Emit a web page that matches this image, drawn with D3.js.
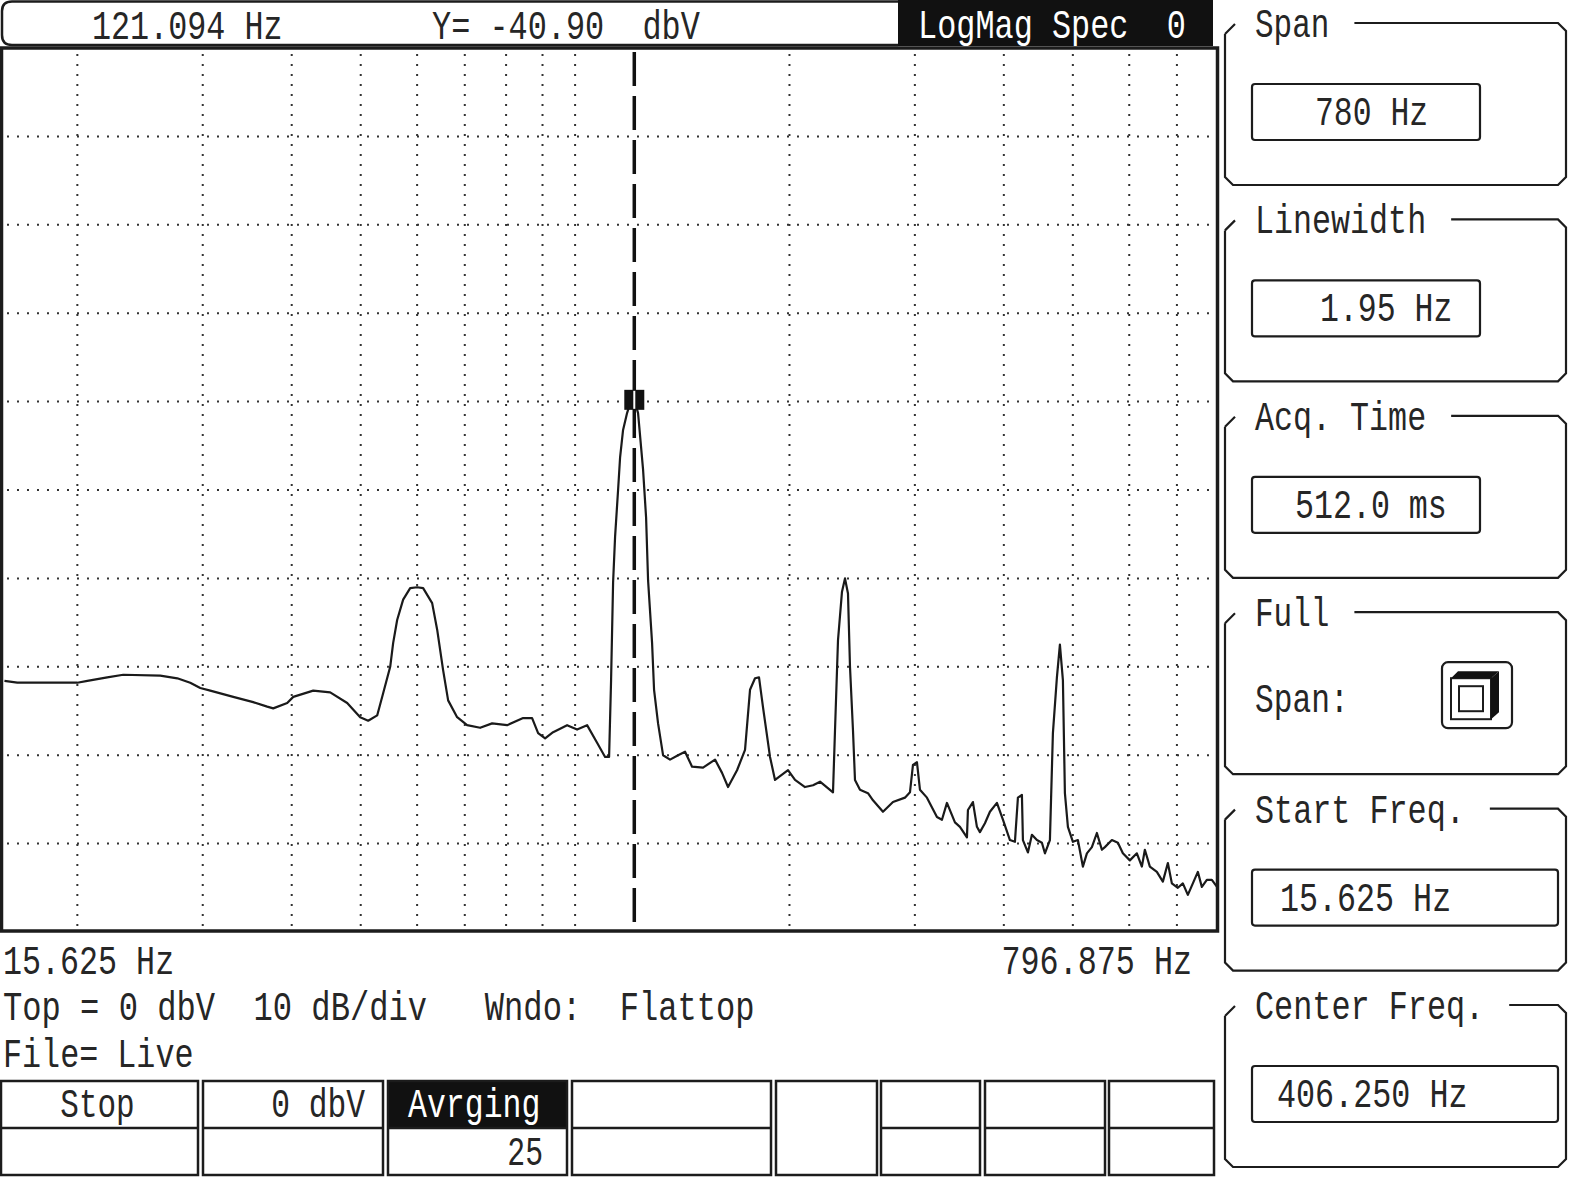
<!DOCTYPE html>
<html><head><meta charset="utf-8">
<script src="https://cdn.jsdelivr.net/npm/d3@7"></script>
<style>html,body{margin:0;padding:0;background:#fff;} svg{display:block;} text{white-space:pre;}</style>
</head><body>
<svg id="c" width="1571" height="1178"></svg>
<script>
// ---------------- data ----------------
const traceFreqHz = [15.8,16.47,20.0,20.66,22.03,23.2,26.15,27.63,28.81,29.76,30.74,33.11,35.32,36.95,37.68,39.42,40.2,42.88,45.3,47.86,49.91,51.22,52.73,53.76,55.0,55.53,56.25,57.35,58.67,60.01,61.18,62.99,64.02,65.27,66.33,68.29,70.53,73.56,76.47,80.27,84.53,87.02,88.73,90.76,93.13,97.44,100.65,103.95,107.37,110.18,111.62,112.34,113.07,113.8,114.91,115.66,116.78,118.3,119.45,121.09,122.58,124.58,125.8,126.61,128.26,129.09,130.77,132.9,135.94,139.5,142.69,145.96,151.24,157.22,160.82,163.97,168.81,173.23,176.05,178.92,181.25,183.61,187.81,190.87,195.24,199.06,203.62,210.31,215.82,220.76,230.23,231.72,233.98,237.02,239.33,241.66,243.23,245.6,247.19,251.22,257.8,262.0,270.61,279.5,290.55,295.28,298.16,302.04,304.98,311.96,322.21,327.46,332.79,341.51,347.07,355.01,356.16,361.96,366.67,370.24,376.28,382.41,391.16,398.82,407.95,414.59,418.63,424.08,425.45,432.38,438.01,445.14,452.4,456.81,464.25,468.77,474.87,479.5,484.17,487.31,492.06,500.08,508.22,516.5,523.23,531.75,540.41,549.22,554.57,567.26,578.37,587.79,601.24,614.99,625.01,631.1,641.38,656.06,668.91,679.81,688.66,702.14,713.58,725.21,737.02,749.03,758.78,771.14,783.7,796.9];
const traceLevelDbV = [-71.6,-71.8,-71.8,-71.6,-71.2,-70.9,-71.0,-71.3,-71.8,-72.4,-72.7,-73.4,-74.0,-74.5,-74.7,-74.1,-73.4,-72.7,-72.9,-74.1,-75.7,-76.1,-75.5,-73.0,-70.0,-67.3,-64.7,-62.4,-61.1,-61.0,-61.1,-62.8,-65.8,-70.4,-73.8,-75.7,-76.6,-76.9,-76.4,-76.6,-75.8,-75.8,-77.5,-78.1,-77.4,-76.6,-77.1,-76.6,-78.6,-80.2,-80.2,-71.5,-60.5,-55.3,-50.0,-46.3,-43.2,-41.3,-40.2,-39.8,-41.3,-47.7,-53.1,-60.2,-67.3,-72.6,-76.4,-80.0,-80.5,-80.0,-79.6,-81.3,-81.4,-80.5,-82.0,-83.6,-81.7,-79.4,-72.6,-71.3,-71.2,-74.6,-80.2,-82.8,-82.2,-81.7,-82.8,-83.6,-83.4,-83.0,-84.2,-77.2,-67.0,-61.5,-60.0,-61.7,-70.0,-77.2,-82.8,-83.9,-84.3,-85.1,-86.4,-85.3,-84.8,-84.2,-81.1,-80.8,-83.9,-84.8,-87.0,-87.3,-85.4,-87.6,-88.1,-89.3,-86.2,-85.3,-88.1,-88.7,-87.7,-86.4,-85.4,-87.3,-89.6,-89.8,-84.8,-84.5,-89.6,-91.0,-89.0,-89.6,-89.9,-91.1,-89.6,-77.5,-71.2,-67.5,-71.5,-84.3,-88.1,-89.8,-89.6,-92.6,-91.1,-90.4,-88.8,-90.7,-90.4,-89.6,-89.9,-91.1,-91.9,-91.1,-92.6,-90.7,-92.6,-93.2,-94.3,-92.2,-94.5,-95.0,-94.5,-95.8,-94.5,-93.2,-94.9,-94.1,-94.1,-94.9];
const freqRangeHz = [15.625, 796.875];
const levelRangeDbV = [0, -100];
const gridFreqHz = [20,30,40,50,60,70,80,90,100,200,300,400,500,600,700];
const gridLevelDbV = [-10,-20,-30,-40,-50,-60,-70,-80,-90];
const markerFreqHz = 121.094;
const markerTraceDbV = -39.8;
const headerTexts = ["121.094 Hz", "Y= -40.90  dbV", "LogMag Spec  0"];
const footerTexts = ["15.625 Hz", "796.875 Hz", "Top = 0 dbV  10 dB/div   Wndo:  Flattop", "File= Live"];
const softKeyTop = ["Stop", "0 dbV", "Avrging", "", "", "", "", ""];
const softKeyBottom = ["", "", "25", "", null, "", "", ""];
const panelLabels = ["Span", "Linewidth", "Acq. Time", "Full", "Start Freq.", "Center Freq."];
const panelValues = ["780 Hz", "1.95 Hz", "512.0 ms", null, "15.625 Hz", "406.250 Hz"];

// ---------------- drawing ----------------
const svg = d3.select('#c');
const INK = '#1c1c1c';
const FONT = "'Liberation Mono', 'DejaVu Sans Mono', monospace";
const PITCH = 19.35;

function txt(g, x, y, s, o = {}) {
  if (!s) return;
  const n = s.length;
  let x0 = x;
  if (o.anchor === 'end') x0 = x - n * PITCH;
  if (o.anchor === 'middle') x0 = x - n * PITCH / 2;
  g.append('text').attr('x', x0).attr('y', y).text(s)
    .attr('font-family', FONT).attr('font-size', o.size || 41)
    .attr('fill', o.fill || '#262626')
    .attr('textLength', n * PITCH - 3).attr('lengthAdjust', 'spacingAndGlyphs')
    .attr('xml:space', 'preserve');
}

// plot geometry
const PL = 1, PR = 1217, PT = 48, PB = 932;
const x = d3.scaleLog().domain(freqRangeHz).range([PL, PR]);
const y = d3.scaleLinear().domain(levelRangeDbV).range([PT, PB]);

// header
const hdr = svg.append('g');
hdr.append('path').attr('d', `M898,1.5 L12,1.5 Q2,1.5 2,11 L2,35 Q2,45 12,45 L898,45`)
  .attr('fill', 'none').attr('stroke', INK).attr('stroke-width', 2.5);
hdr.append('rect').attr('x', 898).attr('y', 0).attr('width', 315).attr('height', 46).attr('fill', '#111');
txt(hdr, 92, 39, headerTexts[0]);
txt(hdr, 432, 39, headerTexts[1]);
txt(hdr, 918, 38, headerTexts[2], {fill: '#fff'});

// grid
const grid = svg.append('g');
grid.selectAll('line.v').data(gridFreqHz).enter().append('line')
  .attr('x1', d => x(d)).attr('x2', d => x(d)).attr('y1', PT + 6).attr('y2', PB - 2)
  .attr('stroke', '#333').attr('stroke-width', 2).attr('stroke-dasharray', '2,8');
grid.selectAll('line.h').data(gridLevelDbV).enter().append('line')
  .attr('y1', d => y(d)).attr('y2', d => y(d)).attr('x1', PL + 6).attr('x2', PR - 2)
  .attr('stroke', '#333').attr('stroke-width', 2).attr('stroke-dasharray', '2,8');

// marker line
svg.append('line').attr('x1', x(markerFreqHz)).attr('x2', x(markerFreqHz))
  .attr('y1', PT + 4).attr('y2', PB - 4)
  .attr('stroke', '#111').attr('stroke-width', 3.5).attr('stroke-dasharray', '34,10');

// trace
svg.append('clipPath').attr('id', 'clip').append('rect')
  .attr('x', PL).attr('y', PT).attr('width', PR - PL).attr('height', PB - PT);
const pts = d3.zip(traceFreqHz, traceLevelDbV);
svg.append('path').datum(pts).attr('clip-path', 'url(#clip)')
  .attr('d', d3.line().x(d => x(d[0])).y(d => y(d[1])))
  .attr('fill', 'none').attr('stroke', '#1a1a1a').attr('stroke-width', 2.2)
  .attr('stroke-linejoin', 'round');

// marker box
const mx = x(markerFreqHz), my = y(markerTraceDbV);
svg.append('rect').attr('x', mx - 10).attr('y', my - 10).attr('width', 20).attr('height', 20).attr('fill', '#111');
svg.append('line').attr('x1', mx).attr('x2', mx).attr('y1', my - 9).attr('y2', my + 9)
  .attr('stroke', '#fff').attr('stroke-width', 2);

// plot border
svg.append('rect').attr('x', PL + 0.5).attr('y', PT).attr('width', PR - PL).attr('height', PB - PT - 1)
  .attr('fill', 'none').attr('stroke', INK).attr('stroke-width', 3.5);

// footer texts
const ft = svg.append('g');
txt(ft, 3, 974, footerTexts[0]);
txt(ft, 1195, 974, footerTexts[1], {anchor: 'end'});
txt(ft, 3, 1020, footerTexts[2]);
txt(ft, 3, 1067, footerTexts[3]);

// soft keys
const keyX = [[1, 198], [203, 383], [388, 567], [572, 771], [776, 877], [881, 980], [985, 1105], [1109, 1214]];
const KT = 1081, KM = 1128, KB = 1175;
const sk = svg.append('g');
keyX.forEach((k, i) => {
  const [a, b] = k;
  if (i === 2) sk.append('rect').attr('x', a).attr('y', KT).attr('width', b - a).attr('height', KM - KT).attr('fill', '#111');
  sk.append('rect').attr('x', a).attr('y', KT).attr('width', b - a).attr('height', KB - KT)
    .attr('fill', 'none').attr('stroke', INK).attr('stroke-width', 2.5);
  if (softKeyBottom[i] !== null)
    sk.append('line').attr('x1', a).attr('x2', b).attr('y1', KM).attr('y2', KM).attr('stroke', INK).attr('stroke-width', 2.5);
});
txt(sk, 99, 1117, softKeyTop[0], {anchor: 'middle'});
txt(sk, 368, 1117, softKeyTop[1], {anchor: 'end'});
txt(sk, 408, 1117, softKeyTop[2], {fill: '#fff'});
txt(sk, 546, 1165, softKeyBottom[2], {anchor: 'end'});

// right panel
const rp = svg.append('g');
const FL = 1225, FR = 1566, c = 8;
const valueX = [1315, 1320, 1295, null, 1280, 1277];
panelLabels.forEach((lab, i) => {
  const T = 23 + 196.4 * i, B = T + 162;
  const labEnd = 1255 + lab.length * PITCH + 22;
  rp.append('path').attr('d',
    `M${FL},${T + 11} L${FL + 10},${T + 1} ` +
    `M${labEnd},${T} L${FR - c},${T} L${FR},${T + c} L${FR},${B - c} L${FR - c},${B} L${FL + c},${B} L${FL},${B - c} L${FL},${T + 11}`)
    .attr('fill', 'none').attr('stroke', INK).attr('stroke-width', 2.2);
  txt(rp, 1255, T + 14, lab);
  if (panelValues[i]) {
    const wide = i >= 4;
    rp.append('rect').attr('x', 1252).attr('y', T + 61).attr('width', wide ? 306 : 228).attr('height', 56)
      .attr('rx', 3).attr('fill', 'none').attr('stroke', INK).attr('stroke-width', 2.2);
    txt(rp, valueX[i], T + 102, panelValues[i]);
  }
});
// Full span button
{
  const T = 23 + 196.4 * 3;
  txt(rp, 1255, T + 100, 'Span:');
  const bx = 1442, by = T + 50;
  rp.append('rect').attr('x', bx).attr('y', by).attr('width', 70).attr('height', 66).attr('rx', 6)
    .attr('fill', 'none').attr('stroke', INK).attr('stroke-width', 2.2);
  rp.append('rect').attr('x', bx + 9).attr('y', by + 16).attr('width', 40).attr('height', 41)
    .attr('fill', '#fff').attr('stroke', INK).attr('stroke-width', 2);
  rp.append('path').attr('d', `M${bx + 9},${by + 16} L${bx + 16},${by + 9} L${bx + 57},${by + 9} L${bx + 49},${by + 16} Z`).attr('fill', '#111');
  rp.append('path').attr('d', `M${bx + 49},${by + 16} L${bx + 57},${by + 9} L${bx + 57},${by + 50} L${bx + 49},${by + 57} Z`).attr('fill', '#111');
  rp.append('rect').attr('x', bx + 17).attr('y', by + 24).attr('width', 24).attr('height', 25)
    .attr('fill', 'none').attr('stroke', INK).attr('stroke-width', 2);
}
</script>
</body></html>
